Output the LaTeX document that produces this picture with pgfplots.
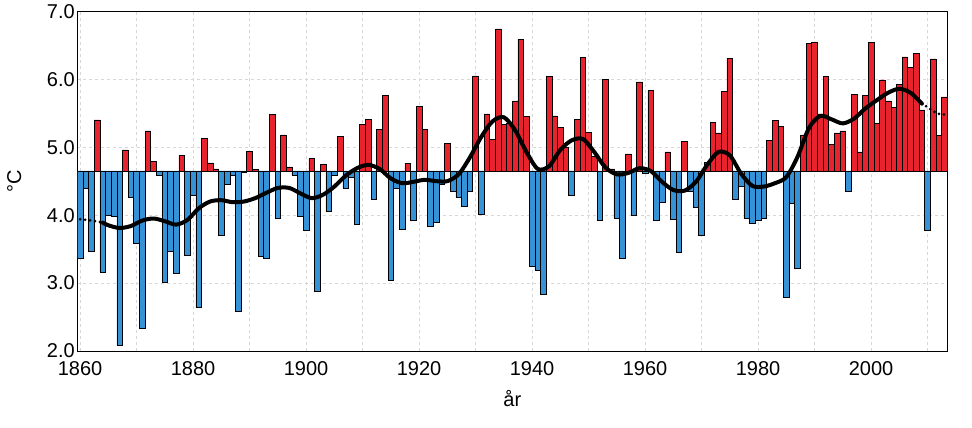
\documentclass[border=0pt]{standalone}
\usepackage{fontspec}
\setmainfont{Liberation Sans}
\usepackage{pgfplots}
\usepackage{pgfplotstable}
\pgfplotsset{compat=1.18}
\definecolor{barred}{RGB}{232,35,45}
\definecolor{barblue}{RGB}{54,146,214}
\definecolor{gridgray}{RGB}{215,215,215}

\pgfplotstableread{
year v
1863 5.40
1868 4.96
1872 5.24
1873 4.79
1878 4.88
1882 5.13
1883 4.77
1884 4.68
1890 4.94
1891 4.67
1894 5.48
1896 5.18
1897 4.71
1901 4.83
1903 4.75
1906 5.16
1910 5.34
1911 5.41
1913 5.26
1914 5.76
1918 4.76
1920 5.60
1921 5.26
1925 5.05
1930 6.05
1932 5.49
1933 5.11
1934 6.74
1935 5.33
1936 5.35
1937 5.68
1938 6.59
1939 5.45
1943 6.04
1944 5.46
1945 5.29
1946 5.00
1948 5.41
1949 6.32
1950 5.22
1951 4.87
1953 6.00
1954 4.68
1957 4.90
1959 5.96
1961 5.84
1964 4.93
1967 5.09
1971 4.78
1972 5.37
1973 5.21
1974 5.82
1975 6.31
1982 5.10
1983 5.39
1984 5.31
1988 5.18
1989 6.53
1990 6.55
1991 5.49
1992 6.04
1993 5.04
1994 5.21
1995 5.24
1997 5.78
1998 4.93
1999 5.76
2000 6.54
2001 5.35
2002 5.99
2003 5.68
2004 5.59
2005 5.92
2006 6.33
2007 6.18
2008 6.38
2009 5.55
2011 6.30
2012 5.17
2013 5.74
}\redbars

\pgfplotstableread{
year v
1860 3.37
1861 4.40
1862 3.47
1864 3.16
1865 3.99
1866 3.98
1867 2.09
1869 4.26
1870 3.58
1871 2.33
1874 4.59
1875 3.01
1876 3.47
1877 3.15
1879 3.41
1880 4.29
1881 2.64
1885 3.71
1886 4.45
1887 4.59
1888 2.58
1889 4.63
1892 3.40
1893 3.36
1895 3.96
1898 4.59
1899 3.98
1900 3.77
1902 2.88
1904 4.05
1905 4.59
1907 4.39
1908 4.55
1909 3.87
1912 4.24
1915 3.04
1916 4.39
1917 3.79
1919 3.93
1922 3.83
1923 3.90
1924 4.45
1926 4.35
1927 4.26
1928 4.13
1929 4.35
1931 4.01
1940 3.25
1941 3.19
1942 2.84
1947 4.29
1952 3.92
1955 3.96
1956 3.36
1958 4.00
1960 4.62
1962 3.92
1963 4.19
1965 3.94
1966 3.45
1968 4.35
1969 4.11
1970 3.71
1976 4.24
1977 4.43
1978 3.95
1979 3.88
1980 3.92
1981 3.95
1985 2.79
1986 4.17
1987 3.21
1996 4.35
2010 3.77
}\bluebars

\pgfplotstableread{
year v
1860 3.94
1862 3.92
1864 3.89
}\smoothstart

\pgfplotstableread{
year v
1864 3.89
1865 3.85
1867 3.81
1869 3.84
1871 3.92
1873 3.95
1875 3.91
1877 3.86
1879 3.93
1881 4.10
1883 4.20
1885 4.22
1887 4.19
1889 4.20
1891 4.25
1893 4.33
1895 4.40
1897 4.40
1899 4.32
1901 4.25
1903 4.30
1905 4.42
1907 4.58
1909 4.69
1911 4.74
1913 4.68
1915 4.54
1917 4.47
1919 4.49
1921 4.52
1923 4.50
1925 4.50
1927 4.60
1929 4.85
1931 5.15
1933 5.38
1935 5.44
1937 5.25
1939 4.93
1941 4.68
1943 4.72
1945 4.96
1947 5.10
1949 5.12
1951 4.93
1953 4.70
1955 4.60
1957 4.62
1959 4.69
1961 4.65
1963 4.49
1965 4.37
1967 4.36
1969 4.49
1971 4.74
1973 4.93
1975 4.88
1977 4.61
1979 4.43
1981 4.42
1983 4.47
1985 4.56
1987 4.86
1989 5.28
1991 5.46
1993 5.41
1995 5.35
1997 5.42
1999 5.57
2001 5.69
2003 5.80
2005 5.86
2007 5.80
2009 5.64
}\smoothmid

\pgfplotstableread{
year v
2009 5.64
2010 5.59
2011 5.53
2012 5.49
2013 5.48
}\smoothend

\begin{document}
\begin{tikzpicture}
\useasboundingbox (-77.3pt,-76.3pt) rectangle (894.7pt,351pt);
\begin{axis}[
  scale only axis,
  width=870pt, height=339.7pt,
  xmin=1859.5, xmax=2013.5,
  ymin=-2.65, ymax=2.35,
  xtick={1860,1880,1900,1920,1940,1960,1980,2000},
  xticklabels={1860,1880,1900,1920,1940,1960,1980,2000},
  minor xtick={1870,1890,1910,1930,1950,1970,1990,2010},
  ytick={-2.65,-1.65,-0.65,0.35,1.35,2.35},
  yticklabels={2.0,3.0,4.0,5.0,6.0,7.0},
  grid=both,
  major grid style={gridgray, dashed, line width=0.6pt},
  minor grid style={gridgray, dashed, line width=0.6pt},
  major tick length=0pt, minor tick length=0pt,
  axis line style={black, line width=0.9pt},
  tick label style={font=\fontsize{20}{24}\selectfont},
  xticklabel style={yshift=-7pt},
  yticklabel style={xshift=1pt},
  xlabel={år},
  ylabel={°C},
  label style={font=\fontsize{20}{24}\selectfont},
  xlabel style={at={(axis description cs:0.5,0)}, anchor=base, yshift=-56pt},
  ylabel style={at={(axis description cs:-0.0724,0.5)}, anchor=center},
  clip=true,
]
\addplot[ybar, bar width=1, bar shift=0pt, fill=barred, draw=black, line width=0.6pt]
  table[x=year, y expr=\thisrow{v}-4.65] {\redbars};
\addplot[ybar, bar width=1, bar shift=0pt, fill=barblue, draw=black, line width=0.6pt]
  table[x=year, y expr=\thisrow{v}-4.65] {\bluebars};
\addplot[black, line width=3pt, line cap=round, dash pattern=on 0pt off 5pt, smooth]
  table[x=year, y expr=\thisrow{v}-4.65] {\smoothstart};
\addplot[black, line width=4pt, smooth, line cap=round]
  table[x=year, y expr=\thisrow{v}-4.65] {\smoothmid};
\addplot[black, line width=3pt, line cap=round, dash pattern=on 0pt off 5pt, smooth]
  table[x=year, y expr=\thisrow{v}-4.65] {\smoothend};
\end{axis}
\end{tikzpicture}
\end{document}
